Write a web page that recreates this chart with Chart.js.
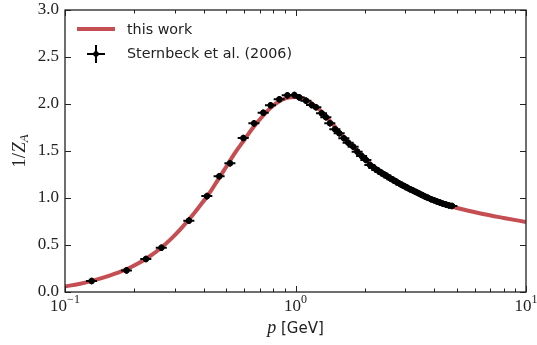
<!DOCTYPE html>
<html>
<head>
<meta charset="utf-8">
<script src="https://cdn.jsdelivr.net/npm/chart.js@4"></script>
<style>
  html, body { margin: 0; padding: 0; background: #fff; }
  #wrap { width: 537px; height: 345px; position: relative; }
</style>
</head>
<body>
<div id="wrap"><canvas id="zaChart" width="537" height="345"></canvas></div>
<script>
// Lattice data (Sternbeck et al. 2006)
const latticeP = [
    0.1305, 0.185, 0.2245, 0.262, 0.345, 0.413, 0.467, 0.520, 0.594, 0.661,
    0.725, 0.780, 0.851, 0.922, 0.989, 1.039, 1.111, 1.176, 1.227, 1.299,
    1.356, 1.411, 1.484, 1.549, 1.623, 1.694, 1.781, 1.854, 1.938, 2.023,
    2.105, 2.191, 2.258, 2.326, 2.397, 2.470, 2.544, 2.623, 2.702, 2.784,
    2.869, 2.956, 3.045, 3.138, 3.234, 3.332, 3.434, 3.538, 3.646, 3.757,
    3.872, 3.990, 4.111, 4.237, 4.365, 4.498, 4.634, 4.775
];
const latticeInvZ = [
    0.117, 0.230, 0.351, 0.471, 0.759, 1.020, 1.231, 1.369, 1.638, 1.794,
    1.907, 1.986, 2.050, 2.092, 2.096, 2.070, 2.035, 1.989, 1.965, 1.901,
    1.859, 1.795, 1.731, 1.688, 1.635, 1.588, 1.546, 1.493, 1.447, 1.404,
    1.351, 1.319, 1.298, 1.277, 1.257, 1.239, 1.218, 1.199, 1.181, 1.162,
    1.144, 1.128, 1.112, 1.093, 1.080, 1.064, 1.048, 1.032, 1.016, 1.002,
    0.987, 0.976, 0.963, 0.951, 0.939, 0.930, 0.921, 0.915
];
const P_REL_ERR = 0.055;   // horizontal error bar, relative
const INVZ_ERR = 0.035;    // vertical error bar

// Model curve ("this work")
const curveP = [
    0.10, 0.115, 0.13, 0.15, 0.17, 0.19, 0.21, 0.23, 0.26, 0.29,
    0.32, 0.35, 0.38, 0.42, 0.46, 0.50, 0.55, 0.60, 0.66, 0.72,
    0.78, 0.85, 0.92, 1.0, 1.08, 1.17, 1.27, 1.4, 1.55, 1.7,
    1.9, 2.1, 2.4, 2.7, 3.0, 3.5, 4.0, 4.7, 5.5, 6.5, 8.0, 10.0
];
const curveInvZ = [
    0.060, 0.085, 0.115, 0.160, 0.205, 0.255, 0.310, 0.370, 0.465, 0.570,
    0.680, 0.790, 0.900, 1.040, 1.190, 1.330, 1.490, 1.620, 1.760, 1.870,
    1.960, 2.030, 2.065, 2.075, 2.060, 2.010, 1.940, 1.830, 1.700, 1.590,
    1.470, 1.370, 1.260, 1.180, 1.115, 1.040, 0.980, 0.915, 0.870, 0.830, 0.788, 0.745
];

const xMajorTicks = [0.1, 1, 10];
const xMajorExp = ['\u22121', '0', '1'];
const xMinorTicks = [0.2, 0.3, 0.4, 0.5, 0.6, 0.7, 0.8, 0.9, 2, 3, 4, 5, 6, 7, 8, 9];
const yTicks = [0, 0.5, 1.0, 1.5, 2.0, 2.5, 3.0];

const RED = '#c44e52';
const SERIF = '"Liberation Serif", "DejaVu Serif", serif';
const SANS = '"DejaVu Sans", sans-serif';

// inward ticks, frame, x labels, axis titles, error bars and legend
const decorPlugin = {
    id: 'decor',
    afterDatasetsDraw(chart) {
        const ctx = chart.ctx;
        const xs = chart.scales.x, ys = chart.scales.y;

        // error bars
        ctx.save();
        ctx.strokeStyle = '#000';
        ctx.lineWidth = 2;
        latticeP.forEach((p, i) => {
            const v = latticeInvZ[i];
            const x0 = xs.getPixelForValue(p * (1 - P_REL_ERR));
            const x1 = xs.getPixelForValue(p * (1 + P_REL_ERR));
            const xc = xs.getPixelForValue(p);
            const y0 = ys.getPixelForValue(v - INVZ_ERR);
            const y1 = ys.getPixelForValue(v + INVZ_ERR);
            const yc = ys.getPixelForValue(v);
            ctx.beginPath();
            ctx.moveTo(x0, yc); ctx.lineTo(x1, yc);
            ctx.moveTo(xc, y0); ctx.lineTo(xc, y1);
            ctx.stroke();
        });
        ctx.restore();
    },
    afterDraw(chart) {
        const ctx = chart.ctx;
        const xs = chart.scales.x, ys = chart.scales.y;
        const a = chart.chartArea;
        ctx.save();
        ctx.strokeStyle = '#222';
        ctx.lineWidth = 1.3;
        ctx.strokeRect(a.left, a.top, a.right - a.left, a.bottom - a.top);

        ctx.lineWidth = 1;
        ctx.beginPath();
        xMajorTicks.forEach(t => {
            const x = Math.round(xs.getPixelForValue(t)) + 0.5;
            ctx.moveTo(x, a.bottom); ctx.lineTo(x, a.bottom - 6);
            ctx.moveTo(x, a.top); ctx.lineTo(x, a.top + 6);
        });
        xMinorTicks.forEach(t => {
            const x = Math.round(xs.getPixelForValue(t)) + 0.5;
            ctx.moveTo(x, a.bottom); ctx.lineTo(x, a.bottom - 3.5);
            ctx.moveTo(x, a.top); ctx.lineTo(x, a.top + 3.5);
        });
        yTicks.forEach(t => {
            const y = Math.round(ys.getPixelForValue(t)) + 0.5;
            ctx.moveTo(a.left, y); ctx.lineTo(a.left + 6, y);
            ctx.moveTo(a.right, y); ctx.lineTo(a.right - 6, y);
        });
        ctx.stroke();

        // x tick labels 10^n
        ctx.fillStyle = '#222';
        ctx.textBaseline = 'alphabetic';
        xMajorTicks.forEach((t, i) => {
            const x = xs.getPixelForValue(t);
            ctx.font = '17px ' + SERIF;
            const wb = ctx.measureText('10').width;
            ctx.font = '12px ' + SERIF;
            const we = ctx.measureText(xMajorExp[i]).width;
            const left = x - (wb + we) / 2;
            ctx.font = '17px ' + SERIF;
            ctx.fillText('10', left, 311);
            ctx.font = '12px ' + SERIF;
            ctx.fillText(xMajorExp[i], left + wb, 303);
        });

        // x title: p [GeV]
        ctx.font = 'italic 18px ' + SERIF;
        const wp = ctx.measureText('p').width;
        ctx.font = '15px ' + SANS;
        const wg = ctx.measureText(' [GeV]').width;
        let xl = (a.left + a.right) / 2 - (wp + wg) / 2;
        ctx.font = 'italic 18px ' + SERIF;
        ctx.fillText('p', xl, 333);
        ctx.font = '15px ' + SANS;
        ctx.fillText(' [GeV]', xl + wp, 333);

        // y title: 1/Z_A
        ctx.save();
        ctx.translate(25, (a.top + a.bottom) / 2);
        ctx.rotate(-Math.PI / 2);
        ctx.font = '19px ' + SERIF;
        const w1 = ctx.measureText('1/').width;
        ctx.font = 'italic 19px ' + SERIF;
        const wz = ctx.measureText('Z').width;
        ctx.font = 'italic 13px ' + SERIF;
        const wa = ctx.measureText('A').width;
        const ys0 = -(w1 + wz + wa) / 2;
        ctx.font = '19px ' + SERIF;
        ctx.fillText('1/', ys0, 0);
        ctx.font = 'italic 19px ' + SERIF;
        ctx.fillText('Z', ys0 + w1, 0);
        ctx.font = 'italic 13px ' + SERIF;
        ctx.fillText('A', ys0 + w1 + wz, 3);
        ctx.restore();

        // legend
        ctx.strokeStyle = RED;
        ctx.lineWidth = 4;
        ctx.beginPath();
        ctx.moveTo(77, 29); ctx.lineTo(115, 29);
        ctx.stroke();
        ctx.strokeStyle = '#000';
        ctx.lineWidth = 2;
        ctx.beginPath();
        ctx.moveTo(87, 54); ctx.lineTo(105, 54);
        ctx.moveTo(96, 45); ctx.lineTo(96, 63);
        ctx.stroke();
        ctx.fillStyle = '#000';
        ctx.beginPath();
        ctx.arc(96, 54, 2.8, 0, Math.PI * 2);
        ctx.fill();
        ctx.fillStyle = '#222';
        ctx.font = '14.3px ' + SANS;
        ctx.textBaseline = 'middle';
        ctx.fillText('this work', 127, 30);
        ctx.fillText('Sternbeck et al. (2006)', 127, 54);
        ctx.restore();
    }
};

new Chart(document.getElementById('zaChart'), {
    type: 'scatter',
    data: {
        datasets: [
            {
                label: 'Sternbeck et al. (2006)',
                data: latticeP.map((p, i) => ({ x: p, y: latticeInvZ[i] })),
                backgroundColor: '#000',
                borderColor: '#000',
                pointRadius: 2.8,
                pointHoverRadius: 2.8,
                showLine: false
            },
            {
                label: 'this work',
                data: curveP.map((p, i) => ({ x: p, y: curveInvZ[i] })),
                borderColor: RED,
                borderWidth: 4,
                pointRadius: 0,
                showLine: true,
                cubicInterpolationMode: 'monotone'
            }
        ]
    },
    options: {
        responsive: false,
        animation: false,
        events: [],
        layout: { padding: { top: 10, right: 11, left: 0, bottom: 0 } },
        plugins: { legend: { display: false }, tooltip: { enabled: false } },
        scales: {
            x: {
                type: 'logarithmic',
                min: 0.1,
                max: 10,
                grid: { display: false },
                border: { display: false },
                ticks: { display: false },
                afterFit: s => { s.height = 53; s.paddingLeft = 0; s.paddingRight = 0; }
            },
            y: {
                min: 0,
                max: 3,
                grid: { display: false, drawTicks: false },
                border: { display: false },
                ticks: {
                    stepSize: 0.5,
                    padding: 6,
                    color: '#222',
                    font: { family: SERIF, size: 17 },
                    callback: v => v.toFixed(1)
                },
                afterFit: s => { s.width = 65; s.paddingTop = 0; s.paddingBottom = 0; }
            }
        }
    },
    plugins: [decorPlugin]
});
</script>
</body>
</html>
